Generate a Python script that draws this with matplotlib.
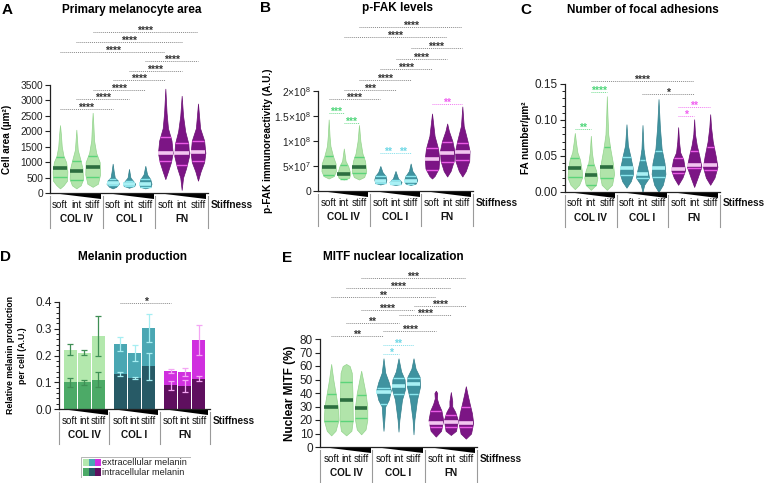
import numpy as np
import matplotlib
matplotlib.use("Agg")
import matplotlib.pyplot as plt
from matplotlib.patches import Polygon, Rectangle
from matplotlib.transforms import offset_copy

W, H = 767, 483
plt.rcParams["font.family"] = ["Liberation Sans", "DejaVu Sans"]
plt.rcParams["mathtext.fontset"] = "custom"
plt.rcParams["mathtext.rm"] = "Liberation Sans"
plt.rcParams["mathtext.it"] = "Liberation Sans:italic"
plt.rcParams["mathtext.bf"] = "Liberation Sans:bold"

GROUPS = ["COL IV", "COL I", "FN"]
STIFF = ["soft", "int", "stiff"]

# ---- A: cell area (um^2); violin outlines as (value, half-width) pairs
A_SHAPES = [
    [(150, 0), (250, 0.2), (400, 0.4), (700, 0.42), (1000, 0.35), (1200, 0.2), (1500, 0.1), (1900, 0.05), (2200, 0)],
    [(150, 0), (250, 0.25), (450, 0.38), (800, 0.35), (1100, 0.22), (1400, 0.08), (2050, 0)],
    [(200, 0), (300, 0.3), (600, 0.42), (1000, 0.4), (1300, 0.2), (1700, 0.08), (2200, 0.04), (2600, 0)],
    [(150, 0), (200, 0.2), (300, 0.35), (400, 0.3), (500, 0.12), (700, 0.06), (950, 0)],
    [(170, 0), (230, 0.3), (300, 0.35), (380, 0.25), (500, 0.08), (780, 0)],
    [(150, 0), (200, 0.3), (300, 0.35), (450, 0.28), (600, 0.1), (880, 0)],
    [(450, 0), (700, 0.15), (1000, 0.32), (1300, 0.42), (1700, 0.35), (2100, 0.15), (2600, 0.07), (3380, 0)],
    [(100, 0), (500, 0.08), (800, 0.25), (1200, 0.42), (1600, 0.38), (2000, 0.2), (2500, 0.08), (3150, 0)],
    [(400, 0), (700, 0.15), (1000, 0.35), (1300, 0.42), (1700, 0.35), (2100, 0.12), (2900, 0)],
]
A_MED = [800, 700, 850, 320, 290, 300, 1300, 1300, 1330]
A_Q1 = [520, 430, 520, 250, 230, 200, 1050, 920, 1030]
A_Q3 = [1170, 1050, 1200, 450, 380, 440, 1800, 1630, 1700]
A_SIG = [(0, 3, 2720, "****", "k"), (1, 4, 3050, "****", "k"), (2, 5, 3340, "****", "k"),
         (3, 6, 3660, "****", "k"), (4, 7, 3950, "****", "k"), (5, 8, 4280, "****", "k"),
         (0, 6, 4570, "****", "k"), (1, 7, 4890, "****", "k"), (2, 8, 5220, "****", "k")]

# ---- B: p-FAK (units of 1e7)
B_SHAPES = [
    [(2.5, 0), (3, 0.3), (4, 0.42), (5.5, 0.4), (7, 0.25), (9, 0.1), (11, 0.05), (14.3, 0)],
    [(2.3, 0), (2.6, 0.3), (3.5, 0.38), (5, 0.25), (6, 0.1), (8.5, 0)],
    [(2.3, 0), (2.8, 0.3), (4, 0.42), (6, 0.35), (7.5, 0.2), (10, 0.08), (13.2, 0)],
    [(1.3, 0), (1.6, 0.3), (2.3, 0.35), (3, 0.3), (3.8, 0.12), (5, 0)],
    [(1.2, 0), (1.4, 0.3), (1.8, 0.35), (2.5, 0.15), (4, 0)],
    [(1.2, 0), (1.5, 0.3), (2.2, 0.38), (3, 0.3), (4, 0.1), (5.5, 0)],
    [(2.5, 0), (3, 0.15), (4.5, 0.38), (6.5, 0.42), (8.5, 0.35), (11, 0.15), (15.5, 0)],
    [(2.9, 0), (4, 0.2), (6, 0.38), (8, 0.42), (10, 0.3), (12, 0.1), (13.5, 0)],
    [(2.9, 0), (4, 0.2), (6, 0.4), (8, 0.42), (10, 0.3), (13, 0.08), (16.9, 0)],
]
B_MED = [4.8, 3.5, 4.9, 2.1, 1.6, 2.1, 6.4, 7.7, 7.9]
B_Q1 = [3.3, 2.5, 3.7, 1.6, 1.4, 1.4, 4.3, 5.9, 6.3]
B_Q3 = [7.1, 5.3, 6.8, 3.0, 2.2, 3.0, 8.7, 9.9, 9.7]
B_SIG = [(0, 1, 15.6, "***", "g"), (1, 2, 13.6, "***", "g"),
         (3, 4, 7.6, "**", "c"), (4, 5, 7.6, "**", "c"), (6, 8, 17.4, "**", "m"),
         (0, 3, 18.4, "****", "k"), (1, 4, 20.2, "***", "k"), (2, 5, 22.2, "****", "k"),
         (3, 6, 24.4, "****", "k"), (4, 7, 26.4, "****", "k"), (5, 8, 28.6, "****", "k"),
         (1, 7, 30.8, "****", "k"), (2, 8, 32.8, "****", "k")]

# ---- C: focal adhesions per um^2
C_SHAPES = [
    [(0.004, 0), (0.01, 0.25), (0.02, 0.42), (0.03, 0.4), (0.045, 0.3), (0.055, 0.15), (0.07, 0.06), (0.082, 0)],
    [(0.003, 0), (0.01, 0.3), (0.02, 0.38), (0.03, 0.3), (0.04, 0.15), (0.055, 0.06), (0.078, 0)],
    [(0.003, 0), (0.01, 0.3), (0.025, 0.42), (0.04, 0.35), (0.06, 0.2), (0.08, 0.08), (0.11, 0.03), (0.133, 0)],
    [(0.006, 0), (0.015, 0.25), (0.025, 0.38), (0.035, 0.35), (0.05, 0.22), (0.065, 0.08), (0.094, 0)],
    [(0.0, 0), (0.01, 0.1), (0.02, 0.38), (0.03, 0.3), (0.045, 0.15), (0.06, 0.06), (0.093, 0)],
    [(0.0, 0), (0.01, 0.25), (0.025, 0.4), (0.04, 0.35), (0.06, 0.18), (0.09, 0.08), (0.129, 0)],
    [(0.01, 0), (0.02, 0.25), (0.03, 0.4), (0.045, 0.3), (0.055, 0.12), (0.07, 0.05), (0.09, 0)],
    [(0.007, 0), (0.02, 0.2), (0.035, 0.42), (0.05, 0.3), (0.065, 0.15), (0.08, 0.05), (0.101, 0)],
    [(0.01, 0), (0.02, 0.25), (0.035, 0.42), (0.05, 0.32), (0.07, 0.15), (0.09, 0.05), (0.108, 0)],
]
C_MED = [0.034, 0.023, 0.035, 0.034, 0.025, 0.034, 0.032, 0.037, 0.037]
C_Q1 = [0.021, 0.010, 0.020, 0.024, 0.019, 0.021, 0.026, 0.033, 0.031]
C_Q3 = [0.047, 0.037, 0.062, 0.048, 0.044, 0.057, 0.047, 0.057, 0.063]
C_SIG = [(0, 1, 0.0875, "**", "g"), (1, 2, 0.139, "****", "g"),
         (1, 7, 0.154, "****", "k"), (4, 7, 0.136, "*", "k"),
         (6, 7, 0.106, "*", "m"), (6, 8, 0.118, "**", "m")]

# ---- D: melanin production (stacked: intracellular + extracellular = total)
D_INTRA = [0.10, 0.10, 0.11, 0.13, 0.115, 0.16, 0.088, 0.085, 0.113]
D_INTRA_ERR = [0.017, 0.010, 0.028, 0.008, 0.003, 0.05, 0.018, 0.022, 0.010]
D_TOTAL = [0.222, 0.211, 0.273, 0.243, 0.208, 0.302, 0.143, 0.140, 0.258]
D_TOTAL_ERR = [0.020, 0.009, 0.075, 0.025, 0.030, 0.053, 0.008, 0.015, 0.057]
D_SIG = [(3, 6, 0.396, "*", "k")]

# ---- E: nuclear MITF (%)
E_SHAPES = [
    [(8.6, 0), (12, 0.25), (20, 0.42), (30, 0.38), (40, 0.25), (50, 0.12), (61.5, 0)],
    [(8.6, 0), (12, 0.3), (20, 0.38), (40, 0.36), (55, 0.32), (60, 0.2), (61.5, 0)],
    [(9.4, 0), (13, 0.25), (20, 0.35), (30, 0.35), (40, 0.25), (50, 0.1), (56.5, 0)],
    [(12, 0), (20, 0.05), (30, 0.1), (35, 0.3), (42, 0.42), (48, 0.3), (55, 0.1), (65.7, 0)],
    [(11.4, 0), (20, 0.05), (35, 0.2), (43, 0.38), (50, 0.35), (56, 0.15), (65.7, 0)],
    [(9.4, 0), (20, 0.05), (35, 0.2), (45, 0.38), (52, 0.35), (58, 0.12), (65.7, 0)],
    [(7.7, 0), (12, 0.3), (20, 0.42), (27, 0.32), (32, 0.15), (36, 0.06), (40, 0.08), (41.7, 0)],
    [(8.9, 0), (12, 0.3), (20, 0.4), (26, 0.25), (30, 0.08), (34, 0.08), (40.7, 0)],
    [(6.2, 0), (10, 0.3), (18, 0.42), (25, 0.35), (32, 0.22), (40, 0.08), (45, 0)],
]
E_MED = [29.4, 34.8, 29.1, 41, 45.5, 46.5, 18, 18.6, 18]
E_Q1 = [19.5, 19.5, 21.2, 32, 39, 39, 15, 14.5, 15]
E_Q3 = [39.3, 47.9, 38.5, 44, 51, 51, 27, 23.5, 30]
E_SIG = [(3, 4, 68.9, "*", "c"), (3, 5, 75.6, "**", "c"),
         (0, 3, 82.2, "**", "k"), (3, 6, 85.9, "****", "k"), (1, 4, 91.9, "**", "k"),
         (4, 7, 97.8, "****", "k"), (2, 5, 101.5, "****", "k"), (5, 8, 104.4, "****", "k"),
         (0, 6, 111.0, "**", "k"), (1, 7, 117.8, "****", "k"), (2, 8, 125.2, "***", "k")]

# colours
V_FILL = ["#b1e4aa", "#3f93a0", "#7c1585"]
V_EDGE = ["#94d48d", "#33808c", "#6a0f73"]
V_MED = ["#2c6e3f", "#a9f1f5", "#f2c6f0"]
V_QUART = ["#5bd47a", "#8be6ee", "#ea5ae6"]
D_EXTRA_COL = ["#b3e8ad", "#4aa7b3", "#d02fdf"]
D_INTRA_COL = ["#4caa67", "#275a66", "#5f0f5f"]
D_ERR_COL = ["#3f8f55", "#a6eef2", "#f4a6f4"]
SIG_STAR = {"k": "#333333", "g": "#4fd67a", "c": "#6fd8e6", "m": "#f060f0"}
SIG_LINE = {"k": "#8a8a8a", "g": "#6fdc8e", "c": "#80dfea", "m": "#f27af2"}


def rect(x0, y0, x1, y1):
    return [x0 / W, 1 - y1 / H, (x1 - x0) / W, (y1 - y0) / H]


def positions(step):
    return [g * 3 + 1.5 + (k - 1) * step for g in range(3) for k in range(3)]


def base_axis(ax, ylim, yticks, labels, fs, minor=None):
    ax.set_xlim(0, 9)
    ax.set_ylim(*ylim)
    ax.set_xticks([])
    ax.set_yticks(yticks)
    ax.set_yticklabels(labels)
    if minor is not None:
        ax.set_yticks(minor, minor=True)
    for s in ("top", "right"):
        ax.spines[s].set_visible(False)
    for s in ("left", "bottom"):
        ax.spines[s].set_color("#222222")
        ax.spines[s].set_linewidth(0.9)
    ax.tick_params(axis="y", length=3.5, width=0.8, labelsize=fs, colors="#222222", pad=1.5)
    ax.tick_params(axis="y", which="minor", length=2, width=0.6)
    ax.patch.set_alpha(0)


def stiffness_axis(ax, xpos):
    fig = ax.figure
    hpx = ax.get_position().height * H
    f = lambda px: -px / hpx
    tr = ax.get_xaxis_transform()
    for g in range(3):
        ax.add_patch(Polygon([(g * 3 + 0.12, 0), (g * 3 + 2.9, 0), (g * 3 + 2.9, f(6))],
                             closed=True, facecolor="black", edgecolor="none",
                             transform=tr, clip_on=False))
        for k in range(3):
            ax.text(xpos[g * 3 + k], f(11.5), STIFF[k], transform=tr, ha="center", va="center",
                    fontsize=7, color="#111111")
        ax.text(g * 3 + 1.5, f(26), GROUPS[g], transform=tr, ha="center", va="center",
                fontsize=7.2, fontweight="bold", color="#111111")
    for xb in (0, 3, 6, 9):
        ax.plot([xb, xb], [f(3), f(35)], color="#9a9a9a", lw=0.8, transform=tr, clip_on=False)
    ax.text(9, f(11.5), "Stiffness", transform=offset_copy(tr, fig=fig, x=3, units="dots"),
            ha="left", va="center", fontsize=7.2, fontweight="bold", color="#111111")


def violins(ax, xpos, shapes, med, q1, q3):
    for i, prof in enumerate(shapes):
        g = i // 3
        ys = np.array([p[0] for p in prof])
        hw = np.array([p[1] for p in prof])
        x = xpos[i]
        ax.fill_betweenx(ys, x - hw, x + hw, facecolor=V_FILL[g], edgecolor=V_EDGE[g], lw=0.5)
        for val, col, lw in ((q1[i], V_QUART[g], 1.0), (q3[i], V_QUART[g], 1.0), (med[i], V_MED[g], 2.6)):
            w = np.interp(val, ys, hw)
            ax.plot([x - w, x + w], [val, val], color=col, lw=lw, solid_capstyle="butt")


def sig(ax, xpos, items, fs=7.5):
    for i, j, y, label, ck in items:
        ax.plot([xpos[i], xpos[j]], [y, y], color=SIG_LINE[ck], lw=0.7,
                ls=(0, (1, 1)), clip_on=False)
        ax.annotate(label, xy=((xpos[i] + xpos[j]) / 2, y), xytext=(0, -1.5),
                    textcoords="offset points", ha="center", va="baseline",
                    fontsize=fs, fontweight="bold", color=SIG_STAR[ck], annotation_clip=False)


def titles(fig, letter, lx, ly, title, tx, ty):
    fig.text(lx / W, 1 - ly / H, letter, fontsize=11, fontweight="bold", ha="left", va="center")
    fig.text(tx / W, 1 - ty / H, title, fontsize=8.5, fontweight="bold", ha="center", va="center")


fig = plt.figure(figsize=(W / 100, H / 100), dpi=100)

# A
ax = fig.add_axes(rect(50, 85, 208, 193))
xa = positions(0.93)
base_axis(ax, (0, 3500), range(0, 3501, 500), [str(v) for v in range(0, 3501, 500)], 7.3)
violins(ax, xa, A_SHAPES, A_MED, A_Q1, A_Q3)
sig(ax, xa, A_SIG)
stiffness_axis(ax, xa)
ax.set_ylabel("Cell area (µm²)", fontsize=7.2, fontweight="bold")
ax.yaxis.set_label_coords((12 - 50) / 158, 0.5)
titles(fig, "A", 2, 10, "Primary melanocyte area", 132, 10)

# B
ax = fig.add_axes(rect(318, 91, 473, 191))
xb = positions(0.88)
base_axis(ax, (0, 20), [0, 5, 10, 15, 20],
          ["0", r"$\mathregular{5{\times}10^7}$", r"$\mathregular{1{\times}10^8}$",
           r"$\mathregular{1.5{\times}10^8}$", r"$\mathregular{2{\times}10^8}$"], 7.4)
violins(ax, xb, B_SHAPES, B_MED, B_Q1, B_Q3)
sig(ax, xb, B_SIG)
stiffness_axis(ax, xb)
ax.set_ylabel("p-FAK immunoreactivity (A.U.)", fontsize=7.2, fontweight="bold")
ax.yaxis.set_label_coords((273 - 318) / 155, 0.5)
titles(fig, "B", 260, 8, "p-FAK levels", 397, 8)

# C
ax = fig.add_axes(rect(565, 84, 720, 192))
xc = positions(0.93)
base_axis(ax, (0, 0.15), [0, 0.05, 0.10, 0.15], ["0.00", "0.05", "0.10", "0.15"], 8.5,
          minor=np.arange(0, 0.151, 0.01))
violins(ax, xc, C_SHAPES, C_MED, C_Q1, C_Q3)
sig(ax, xc, C_SIG)
stiffness_axis(ax, xc)
ax.set_ylabel("FA number/µm²", fontsize=7.2, fontweight="bold")
ax.yaxis.set_label_coords((531 - 565) / 155, 0.5)
titles(fig, "C", 520, 10, "Number of focal adhesions", 643, 10)

# D
ax = fig.add_axes(rect(59, 302, 210, 409))
xd = positions(0.84)
base_axis(ax, (0, 0.4), [0, 0.1, 0.2, 0.3, 0.4], ["0.0", "0.1", "0.2", "0.3", "0.4"], 8.5,
          minor=np.arange(0, 0.401, 0.02))
for i in range(9):
    g = i // 3
    ax.bar(xd[i], D_INTRA[i], width=0.78, color=D_INTRA_COL[g], edgecolor="none")
    ax.bar(xd[i], D_TOTAL[i] - D_INTRA[i], bottom=D_INTRA[i], width=0.78,
           color=D_EXTRA_COL[g], edgecolor="none")
    ax.errorbar(xd[i], D_INTRA[i], yerr=D_INTRA_ERR[i], fmt="none", ecolor=D_ERR_COL[g],
                elinewidth=0.9, capsize=2.5, capthick=0.9)
    ax.errorbar(xd[i], D_TOTAL[i], yerr=D_TOTAL_ERR[i], fmt="none", ecolor=D_ERR_COL[g],
                elinewidth=0.9, capsize=2.5, capthick=0.9)
sig(ax, xd, D_SIG)
stiffness_axis(ax, xd)
ax.set_ylabel("Relative melanin production\nper cell (A.U.)", fontsize=6.3,
              fontweight="bold", linespacing=1.4)
ax.yaxis.set_label_coords((27 - 59) / 151, 0.5)
titles(fig, "D", 0, 257, "Melanin production", 133, 257)

# legend for D
lg = fig.add_axes(rect(81, 457, 191, 478))
lg.set_xlim(0, 110)
lg.set_ylim(21, 0)
lg.axis("off")
lg.add_patch(Rectangle((0.3, 0.3), 109.4, 20.4, facecolor="white", edgecolor="#b5b5b5", lw=0.7))
for r, cols in enumerate((D_EXTRA_COL, D_INTRA_COL)):
    for k, c in enumerate(cols):
        lg.add_patch(Rectangle((1.5 + k * 6, 1.8 + r * 9.6), 6, 7.4, facecolor=c, edgecolor="none"))
lg.text(21, 5.6, "extracellular melanin", fontsize=6.6, va="center", ha="left", color="#222222")
lg.text(21, 15.2, "intracellular melanin", fontsize=6.6, va="center", ha="left", color="#222222")

# E
ax = fig.add_axes(rect(320, 339, 477, 447))
xe = positions(0.86)
base_axis(ax, (0, 80), range(0, 81, 10), [str(v) for v in range(0, 81, 10)], 8.5)
violins(ax, xe, E_SHAPES, E_MED, E_Q1, E_Q3)
sig(ax, xe, E_SIG)
stiffness_axis(ax, xe)
ax.set_ylabel("Nuclear MITF (%)", fontsize=8.5, fontweight="bold")
ax.yaxis.set_label_coords((296 - 320) / 157, 0.5)
titles(fig, "E", 282, 258, "MITF nuclear localization", 393, 257)

fig.savefig("out.png", dpi=100)
